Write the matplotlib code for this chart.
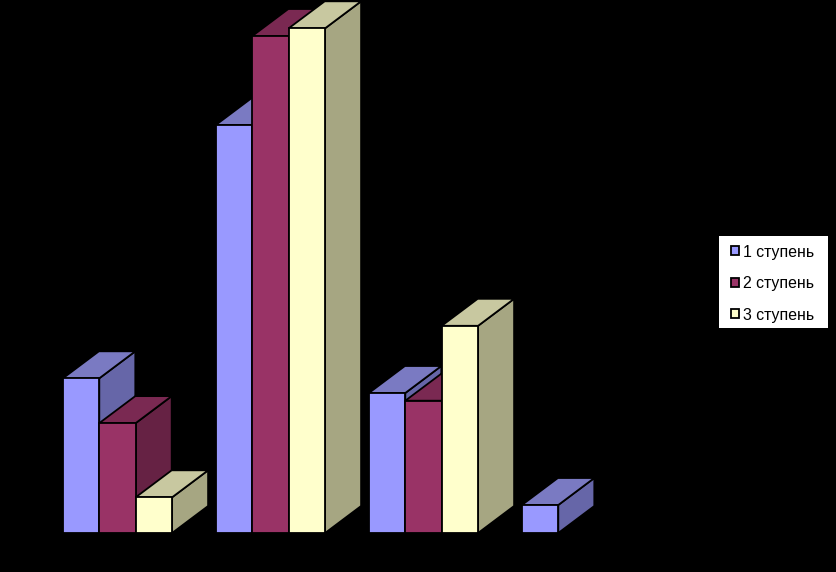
import matplotlib
matplotlib.use("Agg")
import matplotlib.pyplot as plt
from matplotlib.patches import Polygon, Rectangle

categories = [0, 1, 2, 3]
series_names = ["1 ступень", "2 ступень", "3 ступень"]
stage1 = [22.1, 58.3, 20.0, 4.0]
stage2 = [15.7, 71.0, 18.9, 0.0]
stage3 = [5.1, 72.1, 29.6, 0.0]
all_series = [stage1, stage2, stage3]
front_colors = ["#9999FF", "#993366", "#FFFFCC"]
top_colors = ["#7A7AC2", "#7A2952", "#C8C8A0"]
side_colors = ["#6666A8", "#662244", "#A6A682"]

W, H = 836, 572
PX_PER_UNIT = 7.0     # vertical scale
PITCH = 153.0         # pixels between categories
BASE_PY = 533.0
FIRST_CENTER_PX = 117.5
BAR_PX = 36.4
DEPTH_X, DEPTH_Y = 36.0, 27.0

fig = plt.figure(figsize=(W / 100, H / 100), dpi=100, facecolor="black")
ax = fig.add_axes([0, 0, 1, 1], facecolor="black")
ax.set_xlim(-FIRST_CENTER_PX / PITCH, (W - FIRST_CENTER_PX) / PITCH)
ax.set_ylim(-(H - BASE_PY) / PX_PER_UNIT, BASE_PY / PX_PER_UNIT)
ax.axis("off")

bar_w = BAR_PX / PITCH
dx = DEPTH_X / PITCH
dy = DEPTH_Y / PX_PER_UNIT
LW = 1.3
handles = []
z = 2
for i, (vals, fc, tc, sc) in enumerate(zip(all_series, front_colors, top_colors, side_colors)):
    offs = [c + (i - 1) * bar_w for c in categories]
    for x, v in zip(offs, vals):
        if v <= 0:
            continue
        l, r = x - bar_w / 2, x + bar_w / 2
        ax.add_patch(Polygon([(r, 0), (r + dx, dy), (r + dx, v + dy), (r, v)],
                             closed=True, facecolor=sc, edgecolor="black", lw=LW, zorder=z))
        ax.add_patch(Polygon([(l, v), (r, v), (r + dx, v + dy), (l + dx, v + dy)],
                             closed=True, facecolor=tc, edgecolor="black", lw=LW, zorder=z))
        ax.bar([x], [v], width=bar_w, color=fc, edgecolor="black", linewidth=LW, zorder=z + 1)
        z += 2
    handles.append(Rectangle((0, 0), 1, 1, facecolor=fc, edgecolor="black", linewidth=LW))

# White legend panel
fig.add_artist(Rectangle((719 / W, 1 - 328 / H), 109 / W, 92 / H, transform=fig.transFigure,
                         facecolor="white", edgecolor="none", zorder=90))
leg = fig.legend(handles, series_names, loc="upper left",
                 bbox_to_anchor=(731.4 / W, 1 - 244.6 / H),
                 frameon=False,
                 prop={"family": "Liberation Sans", "size": 11.4},
                 handlelength=0.5, handleheight=0.5, handletextpad=0.25,
                 labelspacing=1.04, borderpad=0, borderaxespad=0, labelcolor="black")
leg.set_zorder(100)

fig.savefig("out.png", dpi=100, facecolor="black")
